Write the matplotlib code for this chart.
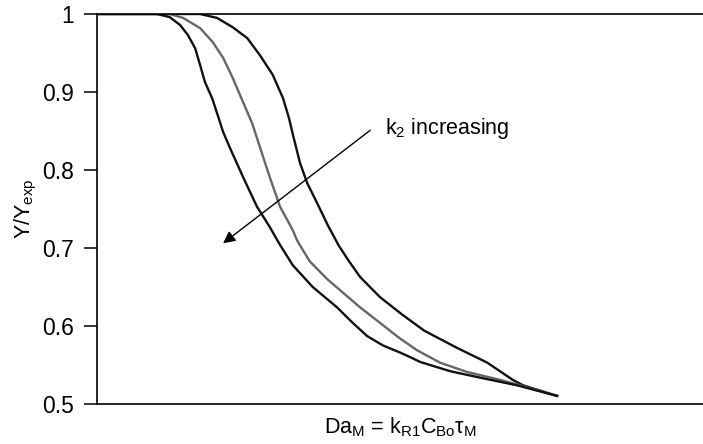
import numpy as np
import matplotlib
matplotlib.use("Agg")
import matplotlib.pyplot as plt

plt.rcParams['font.family'] = ['Liberation Sans', 'DejaVu Sans']
plt.rcParams['mathtext.fontset'] = 'custom'
plt.rcParams['mathtext.rm'] = 'Liberation Sans'
plt.rcParams['mathtext.it'] = 'Liberation Sans:italic'

# curves (x in arbitrary Da_M units, y = Y/Yexp)
x_low = [0.0, 0.99, 1.20, 1.37, 1.50, 1.62, 1.70, 1.78, 1.90, 2.01, 2.08, 2.19, 2.41, 2.64, 2.85,
         3.02, 3.23, 3.56, 3.96, 4.22, 4.46, 4.72, 5.00, 5.17, 5.33, 5.83, 6.37, 6.93, 7.61]
y_low = [1.0, 1.0, 0.996, 0.986, 0.973, 0.956, 0.935, 0.913, 0.892, 0.866, 0.849, 0.829, 0.791, 0.753, 0.727,
         0.704, 0.678, 0.650, 0.624, 0.604, 0.587, 0.575, 0.566, 0.560, 0.554, 0.542, 0.533, 0.524, 0.510]

x_mid = [0.0, 1.20, 1.42, 1.70, 1.91, 2.08, 2.24, 2.41, 2.56, 2.69, 2.85, 3.02, 3.23, 3.30, 3.40,
         3.51, 3.80, 4.01, 4.34, 4.67, 5.00, 5.28, 5.66, 6.11, 6.65, 6.98, 7.61]
y_mid = [1.0, 1.0, 0.995, 0.982, 0.964, 0.944, 0.918, 0.887, 0.860, 0.829, 0.791, 0.753, 0.723, 0.710, 0.697,
         0.683, 0.660, 0.646, 0.624, 0.604, 0.584, 0.569, 0.553, 0.541, 0.531, 0.524, 0.510]

x_high = [0.0, 1.70, 1.98, 2.24, 2.48, 2.69, 2.90, 3.07, 3.17, 3.24, 3.35, 3.47, 3.63, 3.81, 3.99,
          4.15, 4.34, 4.67, 5.03, 5.40, 5.94, 6.44, 6.86, 7.03, 7.61]
y_high = [1.0, 1.0, 0.995, 0.983, 0.969, 0.947, 0.922, 0.892, 0.866, 0.843, 0.809, 0.783, 0.758, 0.729, 0.703,
          0.684, 0.663, 0.637, 0.615, 0.594, 0.572, 0.553, 0.531, 0.524, 0.510]

yticks = [0.5, 0.6, 0.7, 0.8, 0.9, 1.0]
ytick_labels = ['0.5', '0.6', '0.7', '0.8', '0.9', '1']

fig = plt.figure(figsize=(7.03, 4.44), dpi=100)
ax = fig.add_axes([97/703, 40/444, 606/703, 390/444])

for xs, ys, c in [(x_high, y_high, '#111111'), (x_mid, y_mid, '#666666'), (x_low, y_low, '#111111')]:
    ax.plot(xs, ys, color=c, lw=1.7, solid_joinstyle='round', solid_capstyle='butt')

ax.set_xlim(0, 10)
ax.set_ylim(0.5, 1.0)
ax.set_xticks([])
ax.set_yticks(yticks)
ax.set_yticklabels(ytick_labels)
ax.tick_params(axis='y', length=9.5, width=1.1, pad=7, labelsize=16.5)

ax.spines['right'].set_visible(False)
for s in ['left', 'bottom', 'top']:
    ax.spines[s].set_linewidth(1.2)
    ax.spines[s].set_color('black')

ax.set_ylabel(r'Y/Y$_\mathregular{exp}$', fontsize=15.5, labelpad=2)
ax.set_xlabel(r'Da$_\mathregular{M}$ = k$_\mathregular{R1}$C$_\mathregular{Bo}$τ$_\mathregular{M}$',
              fontsize=15.5, labelpad=8)

# arrow + label
ax.annotate('', xy=(2.08, 0.706), xytext=(4.51, 0.851),
            arrowprops=dict(arrowstyle='-|>', color='black', lw=1.0,
                            mutation_scale=18, shrinkA=0, shrinkB=0))
ax.text(4.75, 0.853, r'k$_2$ increasing', fontsize=15.5, ha='left', va='center')

fig.savefig('out.png', dpi=100)
